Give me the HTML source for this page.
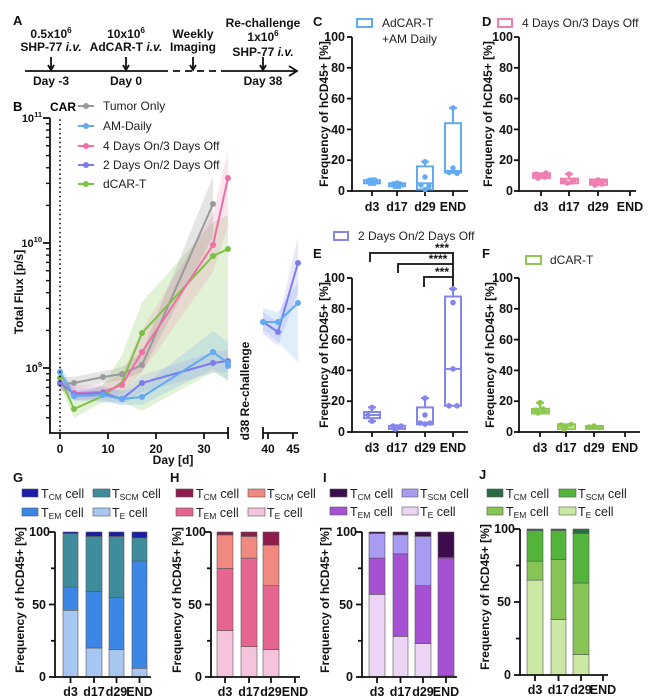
<!DOCTYPE html>
<html><head><meta charset="utf-8"><style>
html,body{margin:0;padding:0;background:#fff;}
svg{display:block;font-family:"Liberation Sans",Arial,sans-serif;}
.b{font-weight:bold;}
</style></head><body>
<svg width="650" height="700" viewBox="0 0 650 700" xmlns="http://www.w3.org/2000/svg">
<rect width="650" height="700" fill="#fff"/>

<!-- ===== A timeline ===== -->
<g font-size="12" font-weight="bold" fill="#111" text-anchor="middle">
<text x="13" y="25" text-anchor="start" font-size="13">A</text>
<text x="51" y="38">0.5x10<tspan dy="-5" font-size="8">6</tspan></text>
<text x="51" y="51">SHP-77 <tspan font-style="italic">i.v.</tspan></text>
<text x="51" y="85">Day -3</text>
<text x="126" y="38">10x10<tspan dy="-5" font-size="8">6</tspan></text>
<text x="126" y="51">AdCAR-T <tspan font-style="italic">i.v.</tspan></text>
<text x="126" y="85">Day 0</text>
<text x="193" y="38">Weekly</text>
<text x="193" y="51">Imaging</text>
<text x="263" y="27">Re-challenge</text>
<text x="263" y="41">1x10<tspan dy="-5" font-size="8">6</tspan></text>
<text x="263" y="56">SHP-77 <tspan font-style="italic">i.v.</tspan></text>
<text x="263" y="85">Day 38</text>
</g>
<g stroke="#111" stroke-width="1.8" fill="none">
<line x1="25" y1="71" x2="161" y2="71"/>
<line x1="161" y1="71" x2="228" y2="71" stroke-dasharray="7,5"/>
<line x1="228" y1="71" x2="296" y2="71"/>
<polyline points="289,66 297,71 289,76"/>
<line x1="51" y1="57" x2="51" y2="70"/><polyline points="48,65 51,70 54,65"/>
<line x1="126" y1="57" x2="126" y2="70"/><polyline points="123,65 126,70 129,65"/>
<line x1="193" y1="57" x2="193" y2="70"/><polyline points="190,65 193,70 196,65"/>
<line x1="263" y1="57" x2="263" y2="70"/><polyline points="260,65 263,70 266,65"/>
</g>

<!-- ===== B ===== -->
<text x="13" y="111" class="b" font-size="13">B</text>
<text x="50" y="111" class="b" font-size="12">CAR</text>
<g stroke-width="2">
<line x1="78" y1="106" x2="94" y2="106" stroke="#9a9a9a"/><circle cx="86" cy="106" r="3" fill="#9a9a9a"/>
<line x1="78" y1="126" x2="94" y2="126" stroke="#62aaf2"/><circle cx="86" cy="126" r="3" fill="#62aaf2"/>
<line x1="78" y1="146" x2="94" y2="146" stroke="#ee6fa8"/><circle cx="86" cy="146" r="3" fill="#ee6fa8"/>
<line x1="78" y1="165" x2="94" y2="165" stroke="#7d7cec"/><circle cx="86" cy="165" r="3" fill="#7d7cec"/>
<line x1="78" y1="184" x2="94" y2="184" stroke="#7cc245"/><circle cx="86" cy="184" r="3" fill="#7cc245"/>
</g>
<g font-size="12" fill="#222">
<text x="103" y="110">Tumor Only</text>
<text x="103" y="130">AM-Daily</text>
<text x="103" y="150">4 Days On/3 Days Off</text>
<text x="103" y="169">2 Days On/2 Days Off</text>
<text x="103" y="188">dCAR-T</text>
</g>
<polygon points="60,368 74,396 103,385 122,355 142,302 177,263 213,222 228,215 228,380 213,372 142,411 122,402 103,402 74,418 60,386" fill="#7cc245" fill-opacity="0.22"/>
<polygon points="60,377 74,377 103,371 122,367 142,352 213,176 213,236 142,372 122,380 103,383 74,389 60,391" fill="#8a8a8a" fill-opacity="0.22"/>
<polygon points="60,376 74,386 103,384 122,374 142,330 213,214 228,150 228,226 213,272 142,372 122,393 103,398 74,400 60,390" fill="#ee6fa8" fill-opacity="0.18"/>
<polygon points="60,364 74,390 103,388 122,391 142,386 213,331 228,342 228,381 213,369 142,405 122,405 103,402 74,401 60,379" fill="#62aaf2" fill-opacity="0.2"/>
<polygon points="60,378 74,388 103,386 122,391 142,375 213,352 228,350 228,372 213,373 142,392 122,405 103,400 74,400 60,388" fill="#7d7cec" fill-opacity="0.15"/>
<polygon points="263,308 278,312 298,282 298,362 278,342 263,330" fill="#62aaf2" fill-opacity="0.2"/>
<polygon points="263,312 278,322 298,237 298,292 278,346 263,334" fill="#7d7cec" fill-opacity="0.18"/>
<g fill="none" stroke-width="2" stroke-linejoin="round">
<polyline points="60,384 74,383 103,377 122,374 142,365 213,204" stroke="#9a9a9a"/>
<polyline points="60,378 74,409 103,396 122,382 142,333 213,256 228,249" stroke="#7cc245"/>
<polyline points="60,383 74,393 103,392 122,385 142,352 213,245 228,178" stroke="#ee6fa8"/>
<polyline points="60,383 74,394 103,393 122,399 142,383 213,363 228,361" stroke="#7d7cec"/>
<polyline points="60,372 74,396 103,395 122,399 142,397 213,352 228,363" stroke="#62aaf2"/>
<polyline points="263,322 278,332 298,263" stroke="#7d7cec"/>
<polyline points="263,322 278,322 298,303" stroke="#62aaf2"/>
</g>
<g fill="#9a9a9a"><circle cx="60" cy="384" r="3"/><circle cx="74" cy="383" r="3"/><circle cx="103" cy="377" r="3"/><circle cx="122" cy="374" r="3"/><circle cx="142" cy="365" r="3"/><circle cx="213" cy="204" r="3"/></g>
<g fill="#7cc245"><circle cx="60" cy="378" r="3"/><circle cx="74" cy="409" r="3"/><circle cx="142" cy="333" r="3"/><circle cx="213" cy="256" r="3"/><circle cx="228" cy="249" r="3"/></g>
<g fill="#ee6fa8"><circle cx="60" cy="383" r="3"/><circle cx="74" cy="393" r="3"/><circle cx="103" cy="392" r="3"/><circle cx="122" cy="385" r="3"/><circle cx="142" cy="352" r="3"/><circle cx="213" cy="245" r="3"/><circle cx="228" cy="178" r="3"/></g>
<g fill="#7d7cec"><circle cx="60" cy="383" r="3"/><circle cx="74" cy="394" r="3"/><circle cx="103" cy="393" r="3"/><circle cx="122" cy="399" r="3"/><circle cx="142" cy="383" r="3"/><circle cx="213" cy="363" r="3"/><circle cx="228" cy="361" r="3"/><circle cx="263" cy="322" r="3"/><circle cx="278" cy="332" r="3"/><circle cx="298" cy="263" r="3"/></g>
<g fill="#62aaf2"><circle cx="60" cy="372" r="3"/><circle cx="74" cy="396" r="3"/><circle cx="103" cy="395" r="3"/><circle cx="122" cy="399" r="3"/><circle cx="142" cy="397" r="3"/><circle cx="213" cy="352" r="3"/><circle cx="228" cy="363" r="3"/><circle cx="228" cy="366" r="3"/><circle cx="263" cy="322" r="3"/><circle cx="278" cy="322" r="3"/><circle cx="298" cy="303" r="3"/></g>
<line x1="60" y1="120" x2="60" y2="432" stroke="#111" stroke-width="1.8" stroke-dasharray="0.1,4.4" stroke-linecap="round"/>
<g stroke="#111" stroke-width="1.8" fill="none">
<line x1="50" y1="118" x2="50" y2="433"/>
<line x1="49" y1="433" x2="229" y2="433"/>
<line x1="263" y1="433" x2="298" y2="433"/>
<line x1="60" y1="433" x2="60" y2="439"/><line x1="108" y1="433" x2="108" y2="439"/><line x1="156" y1="433" x2="156" y2="439"/><line x1="204" y1="433" x2="204" y2="439"/><line x1="228" y1="427" x2="228" y2="439"/>
<line x1="263" y1="427" x2="263" y2="439"/><line x1="268" y1="433" x2="268" y2="439"/><line x1="293" y1="433" x2="293" y2="439"/>
<line x1="43" y1="118" x2="50" y2="118"/><line x1="43" y1="243" x2="50" y2="243"/><line x1="43" y1="368" x2="50" y2="368"/>
</g>
<g stroke="#111" stroke-width="1.4">
<line x1="46" y1="417.75" x2="50" y2="417.75"/><line x1="46" y1="405.6" x2="50" y2="405.6"/><line x1="46" y1="395.75" x2="50" y2="395.75"/><line x1="46" y1="387.4" x2="50" y2="387.4"/><line x1="46" y1="380.1" x2="50" y2="380.1"/><line x1="46" y1="373.75" x2="50" y2="373.75"/>
<line x1="46" y1="330.4" x2="50" y2="330.4"/><line x1="46" y1="308.4" x2="50" y2="308.4"/><line x1="46" y1="292.75" x2="50" y2="292.75"/><line x1="46" y1="280.6" x2="50" y2="280.6"/><line x1="46" y1="270.75" x2="50" y2="270.75"/><line x1="46" y1="262.4" x2="50" y2="262.4"/><line x1="46" y1="255.1" x2="50" y2="255.1"/><line x1="46" y1="248.75" x2="50" y2="248.75"/>
<line x1="46" y1="205.4" x2="50" y2="205.4"/><line x1="46" y1="183.4" x2="50" y2="183.4"/><line x1="46" y1="167.75" x2="50" y2="167.75"/><line x1="46" y1="155.6" x2="50" y2="155.6"/><line x1="46" y1="145.75" x2="50" y2="145.75"/><line x1="46" y1="137.4" x2="50" y2="137.4"/><line x1="46" y1="130.1" x2="50" y2="130.1"/><line x1="46" y1="123.75" x2="50" y2="123.75"/>
</g>
<g class="b" font-size="11" fill="#111" text-anchor="end">
<text x="42" y="122">10<tspan dy="-5" font-size="7.5">11</tspan></text>
<text x="42" y="247">10<tspan dy="-5" font-size="7.5">10</tspan></text>
<text x="42" y="372">10<tspan dy="-5" font-size="7.5">9</tspan></text>
</g>
<g class="b" font-size="12" fill="#111" text-anchor="middle">
<text x="60" y="453">0</text><text x="108" y="453">10</text><text x="156" y="453">20</text><text x="204" y="453">30</text>
<text x="268" y="453">40</text><text x="293" y="453">45</text>
<text x="173" y="464">Day [d]</text>
<text transform="translate(23,292) rotate(-90)">Total Flux [p/s]</text>
<text transform="translate(249,391) rotate(-90)">d38 Re-challenge</text>
</g>

<!-- ===== C / D / E / F ===== -->
<g class="b" font-size="13" fill="#111">
<text x="313" y="26">C</text><text x="482" y="26">D</text>
<text x="313" y="258">E</text><text x="482" y="258">F</text>
</g>
<g class="b" font-size="12" fill="#111" text-anchor="middle">
<text transform="translate(328,114) rotate(-90)">Frequency of hCD45+ [%]</text>
<text transform="translate(492,114) rotate(-90)">Frequency of hCD45+ [%]</text>
<text transform="translate(328,355) rotate(-90)">Frequency of hCD45+ [%]</text>
<text transform="translate(494,355) rotate(-90)">Frequency of hCD45+ [%]</text>
</g>
<rect x="357" y="19" width="15" height="8" fill="#fff" stroke="#62aaf2" stroke-width="2"/>
<text x="382" y="27" font-size="12" fill="#222">AdCAR-T</text>
<text x="382" y="43" font-size="12" fill="#222">+AM Daily</text>
<rect x="498" y="19" width="14" height="8" fill="#fff" stroke="#ee7fb0" stroke-width="2"/>
<text x="522" y="27" font-size="12" fill="#222">4 Days On/3 Days Off</text>
<rect x="334" y="232" width="14" height="8" fill="#fff" stroke="#8585ee" stroke-width="2"/>
<text x="358" y="240" font-size="12" fill="#222">2 Days On/2 Days Off</text>
<rect x="526" y="256" width="15" height="8" fill="#fff" stroke="#8cc850" stroke-width="2"/>
<text x="550" y="264" font-size="12" fill="#222">dCAR-T</text>

<g stroke="#111" stroke-width="1.8" fill="none">
<!-- C -->
<line x1="352" y1="37" x2="352" y2="192"/><line x1="351" y1="191" x2="468" y2="191"/>
<line x1="347" y1="37" x2="352" y2="37"/><line x1="347" y1="67.8" x2="352" y2="67.8"/><line x1="347" y1="98.6" x2="352" y2="98.6"/><line x1="347" y1="129.4" x2="352" y2="129.4"/><line x1="347" y1="160.2" x2="352" y2="160.2"/><line x1="347" y1="191" x2="352" y2="191"/>
<line x1="372" y1="191" x2="372" y2="196"/><line x1="397" y1="191" x2="397" y2="196"/><line x1="425" y1="191" x2="425" y2="196"/><line x1="453" y1="191" x2="453" y2="196"/>
<!-- D -->
<line x1="519" y1="37" x2="519" y2="192"/><line x1="518" y1="191" x2="636" y2="191"/>
<line x1="514" y1="37" x2="519" y2="37"/><line x1="514" y1="67.8" x2="519" y2="67.8"/><line x1="514" y1="98.6" x2="519" y2="98.6"/><line x1="514" y1="129.4" x2="519" y2="129.4"/><line x1="514" y1="160.2" x2="519" y2="160.2"/><line x1="514" y1="191" x2="519" y2="191"/>
<line x1="541" y1="191" x2="541" y2="196"/><line x1="569" y1="191" x2="569" y2="196"/><line x1="598" y1="191" x2="598" y2="196"/><line x1="630" y1="191" x2="630" y2="196"/>
<!-- E -->
<line x1="352" y1="278" x2="352" y2="433"/><line x1="351" y1="432" x2="468" y2="432"/>
<line x1="347" y1="278" x2="352" y2="278"/><line x1="347" y1="308.8" x2="352" y2="308.8"/><line x1="347" y1="339.6" x2="352" y2="339.6"/><line x1="347" y1="370.4" x2="352" y2="370.4"/><line x1="347" y1="401.2" x2="352" y2="401.2"/><line x1="347" y1="432" x2="352" y2="432"/>
<line x1="372" y1="432" x2="372" y2="437"/><line x1="397" y1="432" x2="397" y2="437"/><line x1="425" y1="432" x2="425" y2="437"/><line x1="453" y1="432" x2="453" y2="437"/>
<!-- F -->
<line x1="519" y1="278" x2="519" y2="433"/><line x1="518" y1="432" x2="640" y2="432"/>
<line x1="514" y1="278" x2="519" y2="278"/><line x1="514" y1="308.8" x2="519" y2="308.8"/><line x1="514" y1="339.6" x2="519" y2="339.6"/><line x1="514" y1="370.4" x2="519" y2="370.4"/><line x1="514" y1="401.2" x2="519" y2="401.2"/><line x1="514" y1="432" x2="519" y2="432"/>
<line x1="540" y1="432" x2="540" y2="437"/><line x1="566" y1="432" x2="566" y2="437"/><line x1="594" y1="432" x2="594" y2="437"/><line x1="625" y1="432" x2="625" y2="437"/>
</g>
<g class="b" font-size="12.5" fill="#111" text-anchor="end">
<text x="345" y="41">100</text><text x="345" y="72">80</text><text x="345" y="103">60</text><text x="345" y="134">40</text><text x="345" y="164">20</text><text x="345" y="195">0</text>
<text x="513" y="41">100</text><text x="513" y="72">80</text><text x="513" y="103">60</text><text x="513" y="134">40</text><text x="513" y="164">20</text><text x="513" y="195">0</text>
<text x="345" y="282">100</text><text x="345" y="313">80</text><text x="345" y="344">60</text><text x="345" y="375">40</text><text x="345" y="405">20</text><text x="345" y="436">0</text>
<text x="513" y="282">100</text><text x="513" y="313">80</text><text x="513" y="344">60</text><text x="513" y="375">40</text><text x="513" y="405">20</text><text x="513" y="436">0</text>
</g>
<g class="b" font-size="12.5" fill="#111" text-anchor="middle">
<text x="372" y="211">d3</text><text x="397" y="211">d17</text><text x="425" y="211">d29</text><text x="453" y="211">END</text>
<text x="541" y="211">d3</text><text x="569" y="211">d17</text><text x="598" y="211">d29</text><text x="630" y="211">END</text>
<text x="372" y="452">d3</text><text x="397" y="452">d17</text><text x="425" y="452">d29</text><text x="453" y="452">END</text>
<text x="540" y="452">d3</text><text x="566" y="452">d17</text><text x="594" y="452">d29</text><text x="625" y="452">END</text>
</g>

<!-- box plots C -->
<g stroke="#62aaf2" stroke-width="2" fill="none">
<line x1="372" y1="178.7" x2="372" y2="184.8"/><line x1="368" y1="178.7" x2="376" y2="178.7"/><line x1="368" y1="184.8" x2="376" y2="184.8"/><rect x="364" y="180.2" width="16" height="3.1"/>
<line x1="397" y1="182.5" x2="397" y2="187.9"/><line x1="393" y1="182.5" x2="401" y2="182.5"/><line x1="393" y1="187.9" x2="401" y2="187.9"/><rect x="389" y="183.3" width="16" height="3.1"/>
<line x1="425" y1="161.7" x2="425" y2="166.4"/><line x1="421" y1="161.7" x2="429" y2="161.7"/><rect x="417" y="166.4" width="16" height="23.1"/><line x1="417" y1="183.3" x2="433" y2="183.3"/>
<line x1="453" y1="107.8" x2="453" y2="123.2"/><line x1="449" y1="107.8" x2="457" y2="107.8"/><line x1="453" y1="172.5" x2="453" y2="174.1"/><rect x="445" y="123.2" width="16" height="49.3"/><line x1="445" y1="171" x2="461" y2="171"/>
</g>
<g fill="#62aaf2">
<circle cx="368" cy="181" r="2.7"/><circle cx="372" cy="180" r="2.7"/><circle cx="376" cy="182" r="2.7"/><circle cx="370" cy="183" r="2.7"/><circle cx="375" cy="180" r="2.7"/>
<circle cx="393" cy="184" r="2.7"/><circle cx="397" cy="183" r="2.7"/><circle cx="401" cy="185" r="2.7"/><circle cx="395" cy="186" r="2.7"/><circle cx="400" cy="184" r="2.7"/>
<circle cx="425" cy="161.7" r="2.7"/><circle cx="425" cy="177" r="2.7"/><circle cx="421" cy="185" r="2.7"/><circle cx="429" cy="186" r="2.7"/><circle cx="425" cy="189.5" r="2.7"/>
<circle cx="453" cy="107.8" r="2.7"/><circle cx="453" cy="167.9" r="2.7"/><circle cx="449" cy="172.5" r="2.7"/><circle cx="457" cy="173.5" r="2.7"/>
</g>
<!-- box plots D -->
<g stroke="#ee7fb0" stroke-width="2" fill="none">
<line x1="541" y1="172.5" x2="541" y2="178.7"/><rect x="533" y="173.3" width="17" height="4.6"/><line x1="533" y1="175.6" x2="550" y2="175.6"/>
<line x1="569" y1="174.1" x2="569" y2="178.7"/><line x1="565" y1="174.1" x2="573" y2="174.1"/><rect x="561" y="178.7" width="17" height="4.6"/><line x1="569" y1="183.3" x2="569" y2="184.8"/>
<line x1="598" y1="178.7" x2="598" y2="186.4"/><rect x="590" y="179.5" width="17" height="5.3"/><line x1="590" y1="181.8" x2="607" y2="181.8"/>
</g>
<g fill="#ee7fb0">
<circle cx="536" cy="174" r="2.8"/><circle cx="541" cy="176" r="2.8"/><circle cx="546" cy="173" r="2.8"/><circle cx="538" cy="178" r="2.8"/><circle cx="545" cy="177" r="2.8"/>
<circle cx="569" cy="174.1" r="2.8"/><circle cx="564" cy="181" r="2.8"/><circle cx="574" cy="180" r="2.8"/><circle cx="567" cy="183" r="2.8"/><circle cx="572" cy="182" r="2.8"/>
<circle cx="593" cy="182" r="2.8"/><circle cx="598" cy="180" r="2.8"/><circle cx="603" cy="181" r="2.8"/><circle cx="595" cy="185" r="2.8"/><circle cx="602" cy="184" r="2.8"/>
</g>
<!-- box plots E -->
<g stroke="#8585ee" stroke-width="2" fill="none">
<line x1="372" y1="407.4" x2="372" y2="421.2"/><line x1="368" y1="407.4" x2="376" y2="407.4"/><line x1="368" y1="421.2" x2="376" y2="421.2"/><rect x="364" y="412" width="16" height="6.1" fill="#fff"/><line x1="364" y1="415" x2="380" y2="415"/>
<line x1="397" y1="424.3" x2="397" y2="430.5"/><rect x="389" y="425.8" width="16" height="3.1"/>
<line x1="425" y1="398.1" x2="425" y2="407.4"/><line x1="421" y1="398.1" x2="429" y2="398.1"/><rect x="417" y="407.4" width="16" height="16.9"/><line x1="417" y1="422.8" x2="433" y2="422.8"/>
<line x1="453" y1="288.8" x2="453" y2="296.5"/><line x1="449" y1="288.8" x2="457" y2="288.8"/><rect x="445" y="296.5" width="16" height="109.3"/><line x1="445" y1="368.9" x2="461" y2="368.9"/>
</g>
<g fill="#8585ee">
<circle cx="372" cy="407.4" r="2.8"/><circle cx="372" cy="421.2" r="2.8"/><circle cx="368" cy="415" r="2.5"/>
<circle cx="393" cy="426" r="2.8"/><circle cx="397" cy="428" r="2.8"/><circle cx="401" cy="426" r="2.8"/><circle cx="395" cy="429" r="2.8"/>
<circle cx="425" cy="398.1" r="2.8"/><circle cx="425" cy="415" r="2.8"/><circle cx="420" cy="423" r="2.8"/><circle cx="430" cy="423" r="2.8"/><circle cx="425" cy="424" r="2.8"/>
<circle cx="453" cy="288.8" r="2.8"/><circle cx="453" cy="302.6" r="2.8"/><circle cx="453" cy="368.9" r="2.8"/><circle cx="449" cy="405.8" r="2.8"/><circle cx="457" cy="405.8" r="2.8"/>
</g>
<g stroke="#111" stroke-width="1.8" fill="none">
<polyline points="370,262 370,253 453,253"/>
<polyline points="398,273 398,264 453,264"/>
<polyline points="424,287 424,277 453,277"/>
<line x1="453" y1="252" x2="453" y2="286"/>
</g>
<g class="b" font-size="12" fill="#111" text-anchor="middle">
<text x="442" y="252">***</text><text x="438" y="263">****</text><text x="442" y="276">***</text>
</g>
<!-- box plots F -->
<g stroke="#8cc850" stroke-width="2" fill="none">
<line x1="540" y1="402.7" x2="540" y2="408.9"/><line x1="536" y1="402.7" x2="544" y2="402.7"/><rect x="532" y="408.9" width="17" height="4.6"/><line x1="532" y1="411.2" x2="549" y2="411.2"/>
<rect x="558" y="424.3" width="17" height="4.6"/>
<rect x="586" y="426" width="17" height="2.9"/>
</g>
<g fill="#8cc850">
<circle cx="540" cy="402.7" r="2.8"/><circle cx="536" cy="410" r="2.8"/><circle cx="544" cy="411" r="2.8"/><circle cx="538" cy="413" r="2.8"/><circle cx="543" cy="409" r="2.8"/>
<circle cx="561" cy="425" r="2.8"/><circle cx="566" cy="427" r="2.8"/><circle cx="571" cy="424.5" r="2.8"/><circle cx="564" cy="429" r="2.8"/>
<circle cx="589" cy="427" r="2.8"/><circle cx="594" cy="426" r="2.8"/><circle cx="599" cy="427.5" r="2.8"/>
</g>

<!-- ===== G H I J ===== -->
<g class="b" font-size="13" fill="#111">
<text x="13" y="482">G</text><text x="170" y="482">H</text><text x="323" y="482">I</text><text x="479" y="479">J</text>
</g>
<g stroke="#555" stroke-width="0.6">
<rect x="22" y="489" width="16" height="8" fill="#1c1ca8"/><rect x="93" y="489" width="17" height="8" fill="#3e8c9c"/>
<rect x="22" y="508" width="16" height="8" fill="#3c86e6"/><rect x="93" y="508" width="17" height="8" fill="#a8c6f2"/>
<rect x="176" y="489" width="17" height="8" fill="#8e1c4c"/><rect x="248" y="489" width="17" height="8" fill="#f08a80"/>
<rect x="176" y="508" width="17" height="8" fill="#e46690"/><rect x="248" y="508" width="17" height="8" fill="#f5c3dc"/>
<rect x="330" y="489" width="17" height="8" fill="#3c0c4c"/><rect x="402" y="489" width="16" height="8" fill="#a99af2"/>
<rect x="330" y="507" width="17" height="8" fill="#a650d4"/><rect x="402" y="507" width="16" height="8" fill="#ecd4f4"/>
<rect x="487" y="489" width="16" height="8" fill="#2c6c44"/><rect x="559" y="489" width="17" height="8" fill="#52b43a"/>
<rect x="487" y="507" width="16" height="8" fill="#86c455"/><rect x="559" y="507" width="17" height="8" fill="#cbe8a4"/>
</g>
<g font-size="12.5" fill="#222">
<text x="41" y="498">T<tspan font-size="8.5" dy="2">CM</tspan><tspan dy="-2"> cell</tspan></text>
<text x="112" y="498">T<tspan font-size="8.5" dy="2">SCM</tspan><tspan dy="-2"> cell</tspan></text>
<text x="41" y="517">T<tspan font-size="8.5" dy="2">EM</tspan><tspan dy="-2"> cell</tspan></text>
<text x="112" y="517">T<tspan font-size="8.5" dy="2">E</tspan><tspan dy="-2"> cell</tspan></text>
<text x="196" y="498">T<tspan font-size="8.5" dy="2">CM</tspan><tspan dy="-2"> cell</tspan></text>
<text x="267" y="498">T<tspan font-size="8.5" dy="2">SCM</tspan><tspan dy="-2"> cell</tspan></text>
<text x="196" y="517">T<tspan font-size="8.5" dy="2">EM</tspan><tspan dy="-2"> cell</tspan></text>
<text x="267" y="517">T<tspan font-size="8.5" dy="2">E</tspan><tspan dy="-2"> cell</tspan></text>
<text x="350" y="498">T<tspan font-size="8.5" dy="2">CM</tspan><tspan dy="-2"> cell</tspan></text>
<text x="420" y="498">T<tspan font-size="8.5" dy="2">SCM</tspan><tspan dy="-2"> cell</tspan></text>
<text x="350" y="516">T<tspan font-size="8.5" dy="2">EM</tspan><tspan dy="-2"> cell</tspan></text>
<text x="420" y="516">T<tspan font-size="8.5" dy="2">E</tspan><tspan dy="-2"> cell</tspan></text>
<text x="506" y="498">T<tspan font-size="8.5" dy="2">CM</tspan><tspan dy="-2"> cell</tspan></text>
<text x="578" y="498">T<tspan font-size="8.5" dy="2">SCM</tspan><tspan dy="-2"> cell</tspan></text>
<text x="506" y="516">T<tspan font-size="8.5" dy="2">EM</tspan><tspan dy="-2"> cell</tspan></text>
<text x="578" y="516">T<tspan font-size="8.5" dy="2">E</tspan><tspan dy="-2"> cell</tspan></text>
</g>
<g class="b" font-size="12" fill="#111" text-anchor="middle">
<text transform="translate(24,600) rotate(-90)">Frequency of hCD45+ [%]</text>
<text transform="translate(181,600) rotate(-90)">Frequency of hCD45+ [%]</text>
<text transform="translate(329,600) rotate(-90)">Frequency of hCD45+ [%]</text>
<text transform="translate(489,597) rotate(-90)">Frequency of hCD45+ [%]</text>
</g>
<g stroke="#555" stroke-width="0.6">
<rect x="63" y="610.3" width="15" height="66.7" fill="#a8c6f2"/><rect x="63" y="587.1" width="15" height="23.2" fill="#3c86e6"/><rect x="63" y="533.5" width="15" height="53.6" fill="#3e8c9c"/><rect x="63" y="532" width="15" height="1.5" fill="#1c1ca8"/>
<rect x="86" y="648" width="16" height="29" fill="#a8c6f2"/><rect x="86" y="591.5" width="16" height="56.5" fill="#3c86e6"/><rect x="86" y="536.4" width="16" height="55.1" fill="#3e8c9c"/><rect x="86" y="532" width="16" height="4.4" fill="#1c1ca8"/>
<rect x="109" y="649.5" width="15" height="27.5" fill="#a8c6f2"/><rect x="109" y="597.3" width="15" height="52.2" fill="#3c86e6"/><rect x="109" y="536.4" width="15" height="60.9" fill="#3e8c9c"/><rect x="109" y="532" width="15" height="4.4" fill="#1c1ca8"/>
<rect x="132" y="668.3" width="15" height="8.7" fill="#a8c6f2"/><rect x="132" y="561" width="15" height="107.3" fill="#3c86e6"/><rect x="132" y="537.8" width="15" height="23.2" fill="#3e8c9c"/><rect x="132" y="532" width="15" height="5.8" fill="#1c1ca8"/>
<rect x="217" y="630.6" width="16" height="46.4" fill="#f5c3dc"/><rect x="217" y="568.3" width="16" height="62.3" fill="#e46690"/><rect x="217" y="534.9" width="16" height="33.4" fill="#f08a80"/><rect x="217" y="532" width="16" height="2.9" fill="#8e1c4c"/>
<rect x="241" y="646.6" width="16" height="30.4" fill="#f5c3dc"/><rect x="241" y="558.1" width="16" height="88.5" fill="#e46690"/><rect x="241" y="536.4" width="16" height="21.7" fill="#f08a80"/><rect x="241" y="532" width="16" height="4.4" fill="#8e1c4c"/>
<rect x="263" y="649.5" width="16" height="27.5" fill="#f5c3dc"/><rect x="263" y="585.7" width="16" height="63.8" fill="#e46690"/><rect x="263" y="545.1" width="16" height="40.6" fill="#f08a80"/><rect x="263" y="532" width="16" height="13.1" fill="#8e1c4c"/>
<rect x="369" y="594.4" width="16" height="82.6" fill="#ecd4f4"/><rect x="369" y="558.1" width="16" height="36.3" fill="#a650d4"/><rect x="369" y="533.5" width="16" height="24.6" fill="#a99af2"/><rect x="369" y="532" width="16" height="1.5" fill="#3c0c4c"/>
<rect x="393" y="636.4" width="15" height="40.6" fill="#ecd4f4"/><rect x="393" y="553.8" width="15" height="82.6" fill="#a650d4"/><rect x="393" y="534.9" width="15" height="18.9" fill="#a99af2"/><rect x="393" y="532" width="15" height="2.9" fill="#3c0c4c"/>
<rect x="415" y="643.7" width="16" height="33.3" fill="#ecd4f4"/><rect x="415" y="585.7" width="16" height="58" fill="#a650d4"/><rect x="415" y="536.4" width="16" height="49.3" fill="#a99af2"/><rect x="415" y="532" width="16" height="4.4" fill="#3c0c4c"/>
<rect x="438" y="675.6" width="16" height="1.4" fill="#ecd4f4"/><rect x="438" y="558.1" width="16" height="117.5" fill="#a650d4"/><rect x="438" y="557.4" width="16" height="0.7" fill="#a99af2"/><rect x="438" y="532" width="16" height="25.4" fill="#3c0c4c"/>
<rect x="527" y="580.1" width="16" height="94.9" fill="#cbe8a4"/><rect x="527" y="561.1" width="16" height="19" fill="#86c455"/><rect x="527" y="530.5" width="16" height="30.6" fill="#52b43a"/><rect x="527" y="529" width="16" height="1.5" fill="#2c6c44"/>
<rect x="551" y="619.5" width="15" height="55.5" fill="#cbe8a4"/><rect x="551" y="559.7" width="15" height="59.8" fill="#86c455"/><rect x="551" y="530.5" width="15" height="29.2" fill="#52b43a"/><rect x="551" y="529" width="15" height="1.5" fill="#2c6c44"/>
<rect x="573" y="654.6" width="16" height="20.4" fill="#cbe8a4"/><rect x="573" y="583" width="16" height="71.6" fill="#86c455"/><rect x="573" y="533.4" width="16" height="49.6" fill="#52b43a"/><rect x="573" y="529" width="16" height="4.4" fill="#2c6c44"/>
</g>
<g stroke="#111" stroke-width="1.8" fill="none">
<line x1="55" y1="532" x2="55" y2="678"/><line x1="54" y1="677" x2="151" y2="677"/>
<line x1="49" y1="532" x2="55" y2="532"/><line x1="51" y1="568.3" x2="55" y2="568.3"/><line x1="49" y1="604.5" x2="55" y2="604.5"/><line x1="51" y1="640.8" x2="55" y2="640.8"/><line x1="49" y1="677" x2="55" y2="677"/>
<line x1="70.5" y1="677" x2="70.5" y2="683"/><line x1="94" y1="677" x2="94" y2="683"/><line x1="116.5" y1="677" x2="116.5" y2="683"/><line x1="139.5" y1="677" x2="139.5" y2="683"/>
<line x1="211" y1="532" x2="211" y2="678"/><line x1="210" y1="677" x2="300" y2="677"/>
<line x1="205" y1="532" x2="211" y2="532"/><line x1="207" y1="568.3" x2="211" y2="568.3"/><line x1="205" y1="604.5" x2="211" y2="604.5"/><line x1="207" y1="640.8" x2="211" y2="640.8"/><line x1="205" y1="677" x2="211" y2="677"/>
<line x1="225" y1="677" x2="225" y2="683"/><line x1="249" y1="677" x2="249" y2="683"/><line x1="271" y1="677" x2="271" y2="683"/><line x1="295" y1="677" x2="295" y2="683"/>
<line x1="362" y1="532" x2="362" y2="678"/><line x1="361" y1="677" x2="457" y2="677"/>
<line x1="356" y1="532" x2="362" y2="532"/><line x1="358" y1="568.3" x2="362" y2="568.3"/><line x1="356" y1="604.5" x2="362" y2="604.5"/><line x1="358" y1="640.8" x2="362" y2="640.8"/><line x1="356" y1="677" x2="362" y2="677"/>
<line x1="377" y1="677" x2="377" y2="683"/><line x1="400.5" y1="677" x2="400.5" y2="683"/><line x1="423" y1="677" x2="423" y2="683"/><line x1="446" y1="677" x2="446" y2="683"/>
<line x1="520" y1="529" x2="520" y2="676"/><line x1="519" y1="675" x2="608" y2="675"/>
<line x1="514" y1="529" x2="520" y2="529"/><line x1="516" y1="565.5" x2="520" y2="565.5"/><line x1="514" y1="602" x2="520" y2="602"/><line x1="516" y1="638.5" x2="520" y2="638.5"/><line x1="514" y1="675" x2="520" y2="675"/>
<line x1="535" y1="675" x2="535" y2="681"/><line x1="558.5" y1="675" x2="558.5" y2="681"/><line x1="581" y1="675" x2="581" y2="681"/><line x1="603" y1="675" x2="603" y2="681"/>
</g>
<g class="b" font-size="12.5" fill="#111" text-anchor="end">
<text x="50" y="536">100</text><text x="46" y="609">50</text><text x="46" y="681">0</text>
<text x="206" y="536">100</text><text x="202" y="609">50</text><text x="202" y="681">0</text>
<text x="357" y="536">100</text><text x="353" y="609">50</text><text x="353" y="681">0</text>
<text x="515" y="533">100</text><text x="511" y="606">50</text><text x="511" y="679">0</text>
</g>
<g class="b" font-size="12.5" fill="#111" text-anchor="middle">
<text x="70.5" y="696">d3</text><text x="94" y="696">d17</text><text x="116.5" y="696">d29</text><text x="139.5" y="696">END</text>
<text x="225" y="696">d3</text><text x="249" y="696">d17</text><text x="271" y="696">d29</text><text x="295" y="696">END</text>
<text x="377" y="696">d3</text><text x="400.5" y="696">d17</text><text x="423" y="696">d29</text><text x="446" y="696">END</text>
<text x="535" y="694">d3</text><text x="558.5" y="694">d17</text><text x="581" y="694">d29</text><text x="603" y="694">END</text>
</g>
</svg>
</body></html>
